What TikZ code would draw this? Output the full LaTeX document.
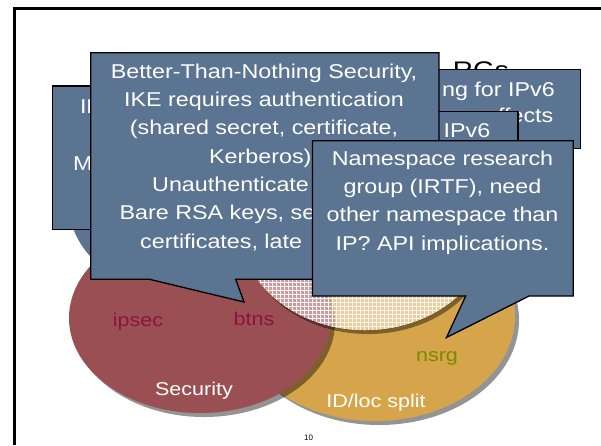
\documentclass[tikz,border=0pt]{standalone}
\usepackage{fontspec}
\setmainfont{Liberation Sans}
\newfontfamily\cf[FakeStretch=1.165]{Liberation Sans}
\definecolor{callblue}{RGB}{91,116,145}
\definecolor{secred}{RGB}{154,80,82}
\definecolor{idyellow}{RGB}{214,164,74}
\definecolor{wgred}{RGB}{140,18,70}
\definecolor{wgolive}{RGB}{122,138,0}
\begin{document}
\begin{tikzpicture}[x=1pt,y=-1pt,
  callout/.style={fill=callblue, draw=black, line width=1.3pt, line join=miter},
  ctext/.style={text=white, font=\cf\fontsize{20}{28.3}\selectfont, inner sep=0pt, anchor=base},
  wglabel/.style={font=\cf\fontsize{18.5}{22}\selectfont, inner sep=0pt, anchor=base},
  shadowfill/.style={fill=black, opacity=0.42}]
\useasboundingbox (0,0) rectangle (601,445);
\fill[white] (0,0) rectangle (601,445);
% slide frame
\draw[line width=3pt] (14.3,445) -- (14.3,8.3) -- (601,8.3);
% third (blue-grey) ellipse, mostly hidden
\fill[callblue] (219,205) ellipse [x radius=150pt, y radius=100pt];
% ID/loc split ellipse
\fill[shadowfill] (379,320) ellipse [x radius=140pt, y radius=105pt];
\fill[idyellow] (375,316) ellipse [x radius=140pt, y radius=105pt];
% Security ellipse
\fill[shadowfill] (204,322) ellipse [x radius=131pt, y radius=95pt];
\fill[secred] (200,318) ellipse [x radius=131pt, y radius=95pt];
% hatched overlap ellipse
\fill[shadowfill] (368,231) ellipse [x radius=125pt, y radius=103pt];
\begin{scope}
  \clip (365,227) ellipse [x radius=125pt, y radius=103pt];
  \fill[white] (230,110) rectangle (500,340);
  \fill[idyellow] (375,316) ellipse [x radius=140pt, y radius=105pt];
  \fill[shadowfill] (204,322) ellipse [x radius=131pt, y radius=95pt];
  \fill[secred] (200,318) ellipse [x radius=131pt, y radius=95pt];
  \fill[white, opacity=0.45] (230,110) rectangle (500,340);
  \draw[white, line width=0.6pt, opacity=0.85]
    foreach \i in {0,...,68} {(236+4*\i,110) -- (236+4*\i,340)}
    foreach \j in {0,...,58} {(230,110+4*\j) -- (500,110+4*\j)};
\end{scope}
% working group labels
\node[wglabel, text=wgred] (ipsec) at (138,326.7) {ipsec};
\node[wglabel, text=wgred] (btns) at (254,325) {btns};
\node[wglabel, text=white] (security) at (194,395) {Security};
\node[wglabel, text=white] (idloc) at (376,407.3) {ID/loc split};
\node[wglabel, text=wgolive] (nsrg) at (437,361.7) {nsrg};
\node[font=\fontsize{8}{9}\selectfont, inner sep=0pt, anchor=base] (pagenum) at (308.5,440) {10};
% title (only its top shows above the callouts)
\begin{scope}
  \clip (430,40) rectangle (601,71);
  \node[font=\cf\fontsize{24}{28}\selectfont, inner sep=0pt, anchor=base east] (title) at (509,78.3) {RGs};
\end{scope}
% left callout
\draw[callout] (52.5,86) rectangle (280,229.3);
\node[ctext, anchor=base west] (e1) at (79.8,113.3) {IP};
\node[ctext, anchor=base west] (e3) at (73,170) {Mu};
% multihoming callout
\draw[callout] (313,69.5) rectangle (580.7,148.3);
\node[ctext, anchor=base east] (c1) at (555,96) {ng for IPv6};
\node[ctext, anchor=base east] (c2) at (553.5,122) {ffects};
% mobility callout
\draw[callout] (298,111.7) rectangle (518,190);
\node[ctext, anchor=base west] (d1) at (443.5,137.7) {IPv6};
% BTNS callout
\draw[callout] (90.8,52.7) -- (438.9,52.7) -- (438.9,279.3) -- (235.7,279.3)
  -- (244,302) -- (149.5,279.3) -- (90.8,279.3) -- cycle;
\node[ctext] (a1) at (264,78.3) {Better-Than-Nothing Security,};
\node[ctext] (a2) at (264,106.6) {IKE requires authentication};
\node[ctext] (a3) at (264,134.9) {(shared secret, certificate,};
\node[ctext, anchor=base west] (a4) at (209,163.2) {Kerberos)};
\node[ctext, anchor=base west] (a5) at (152,191.5) {Unauthenticate};
\node[ctext, anchor=base west] (a6) at (119.5,219.8) {Bare RSA keys, se};
\node[ctext, anchor=base west] (a7) at (140,248.1) {certificates, late};
% NSRG callout
\draw[callout] (312.4,140.7) -- (573.3,140.7) -- (573.3,296) -- (529,296)
  -- (446.5,337.5) -- (465.7,296) -- (312.4,296) -- cycle;
\node[ctext] (b1) at (442.5,165) {Namespace research};
\node[ctext] (b2) at (442.5,193.3) {group (IRTF), need};
\node[ctext] (b3) at (442.5,221.6) {other namespace than};
\node[ctext] (b4) at (442.5,250) {IP? API implications.};
\end{tikzpicture}
\end{document}
